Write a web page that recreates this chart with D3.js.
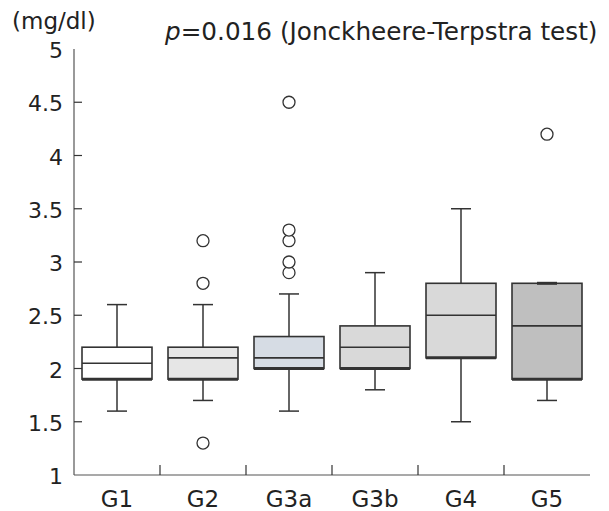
<!DOCTYPE html>
<html>
<head>
<meta charset="utf-8">
<script src="https://cdn.jsdelivr.net/npm/d3@7"></script>
<style>
  body { margin: 0; background: #fff; }
  text { font-family: "DejaVu Sans", Verdana, sans-serif; fill: #222; }
</style>
</head>
<body>
<svg></svg>
<script>
// data (mg/dl)
var groups   = ["G1", "G2", "G3a", "G3b", "G4", "G5"];
var lowWhisk = [1.6, 1.7, 1.6, 1.8, 1.5, 1.7];
var q1       = [1.9, 1.9, 2.0, 2.0, 2.1, 1.9];
var median   = [2.05, 2.1, 2.1, 2.2, 2.5, 2.4];
var q3       = [2.2, 2.2, 2.3, 2.4, 2.8, 2.8];
var highWhisk= [2.6, 2.6, 2.7, 2.9, 3.5, 2.8];
var outliers = [[], [1.3, 2.8, 3.2], [2.9, 3.0, 3.2, 3.3, 4.5], [], [], [4.2]];
var fills    = ["#ffffff", "#e6e6e6", "#d6dce4", "#d9d9d9", "#d9d9d9", "#bfbfbf"];
var yTicks   = [1, 1.5, 2, 2.5, 3, 3.5, 4, 4.5, 5];

var config = { w: 609, h: 511, lpad: 74, rpad: 19, tpad: 49, bpad: 36 };

var svg = d3.select("svg").attr("width", config.w).attr("height", config.h);

var x = d3.scaleBand()
  .domain(groups)
  .range([config.lpad, config.w - config.rpad])
  .paddingInner(0).paddingOuter(0);

var y = d3.scaleLinear()
  .domain([1, 5])
  .range([config.h - config.bpad, config.tpad]);

var stroke = "#333";

// axes
var g = svg.append("g");
g.append("line")
  .attr("x1", config.lpad).attr("x2", config.lpad)
  .attr("y1", y(5)).attr("y2", y(1))
  .attr("stroke", "#555").attr("stroke-width", 1.2);
g.append("line")
  .attr("x1", config.lpad).attr("x2", config.w - config.rpad)
  .attr("y1", y(1)).attr("y2", y(1))
  .attr("stroke", "#555").attr("stroke-width", 1.2);

// y ticks (inward)
g.selectAll("line.yt")
  .data(yTicks.filter(function(d) { return d > 1 && d < 5; }))
  .enter().append("line")
  .attr("class", "yt")
  .attr("x1", config.lpad).attr("x2", config.lpad + 8)
  .attr("y1", function(d) { return y(d); })
  .attr("y2", function(d) { return y(d); })
  .attr("stroke", stroke).attr("stroke-width", 1.2);

g.selectAll("text.yl")
  .data(yTicks)
  .enter().append("text")
  .attr("class", "yl")
  .attr("x", config.lpad - 11)
  .attr("y", function(d) { return y(d); })
  .attr("dy", "0.42em")
  .attr("text-anchor", "end")
  .style("font-size", "22px")
  .text(function(d) { return d; });

// x ticks at band boundaries (inward)
g.selectAll("line.xt")
  .data(groups.slice(1))
  .enter().append("line")
  .attr("class", "xt")
  .attr("x1", function(d) { return x(d); })
  .attr("x2", function(d) { return x(d); })
  .attr("y1", y(1)).attr("y2", y(1) - 10)
  .attr("stroke", stroke).attr("stroke-width", 1.2);

g.selectAll("text.xl")
  .data(groups)
  .enter().append("text")
  .attr("class", "xl")
  .attr("x", function(d) { return x(d) + x.bandwidth() / 2; })
  .attr("y", y(1) + 32)
  .attr("text-anchor", "middle")
  .style("font-size", "23px")
  .text(function(d) { return d; });

// unit and test label
svg.append("text")
  .attr("x", 12).attr("y", 29)
  .style("font-size", "23px")
  .text("(mg/dl)");

var t = svg.append("text")
  .attr("x", 165).attr("y", 40)
  .style("font-size", "24.7px");
t.append("tspan").style("font-style", "italic").text("p");
t.append("tspan").text("=0.016 (Jonckheere-Terpstra test)");

// boxes
var boxW = 70, capW = 20;
var boxes = svg.append("g").selectAll("g.box")
  .data(groups)
  .enter().append("g")
  .attr("class", "box")
  .attr("transform", function(d) { return "translate(" + (x(d) + x.bandwidth() / 2) + ",0)"; });

boxes.append("line")
  .attr("x1", 0).attr("x2", 0)
  .attr("y1", function(d, i) { return y(lowWhisk[i]); })
  .attr("y2", function(d, i) { return y(highWhisk[i]); })
  .attr("stroke", stroke).attr("stroke-width", 1.5);

boxes.append("line")
  .attr("x1", -capW / 2).attr("x2", capW / 2)
  .attr("y1", function(d, i) { return y(lowWhisk[i]); })
  .attr("y2", function(d, i) { return y(lowWhisk[i]); })
  .attr("stroke", stroke).attr("stroke-width", 1.5);

boxes.append("rect")
  .attr("x", -boxW / 2)
  .attr("width", boxW)
  .attr("y", function(d, i) { return y(q3[i]); })
  .attr("height", function(d, i) { return y(q1[i]) - y(q3[i]); })
  .attr("fill", function(d, i) { return fills[i]; })
  .attr("stroke", stroke).attr("stroke-width", 1.6);

boxes.append("line")
  .attr("x1", -capW / 2).attr("x2", capW / 2)
  .attr("y1", function(d, i) { return y(highWhisk[i]); })
  .attr("y2", function(d, i) { return y(highWhisk[i]); })
  .attr("stroke", stroke)
  .attr("stroke-width", function(d, i) { return highWhisk[i] === q3[i] ? 3 : 1.5; });

// bottom edge drawn heavier
boxes.append("line")
  .attr("x1", -boxW / 2).attr("x2", boxW / 2)
  .attr("y1", function(d, i) { return y(q1[i]); })
  .attr("y2", function(d, i) { return y(q1[i]); })
  .attr("stroke", stroke).attr("stroke-width", 3);

boxes.append("line")
  .attr("x1", -boxW / 2).attr("x2", boxW / 2)
  .attr("y1", function(d, i) { return y(median[i]); })
  .attr("y2", function(d, i) { return y(median[i]); })
  .attr("stroke", stroke).attr("stroke-width", 1.6);

boxes.selectAll("circle")
  .data(function(d, i) { return outliers[i]; })
  .enter().append("circle")
  .attr("cx", 0)
  .attr("cy", function(d) { return y(d); })
  .attr("r", 6)
  .attr("fill", "#fff")
  .attr("stroke", stroke).attr("stroke-width", 1.3);
</script>
</body>
</html>
